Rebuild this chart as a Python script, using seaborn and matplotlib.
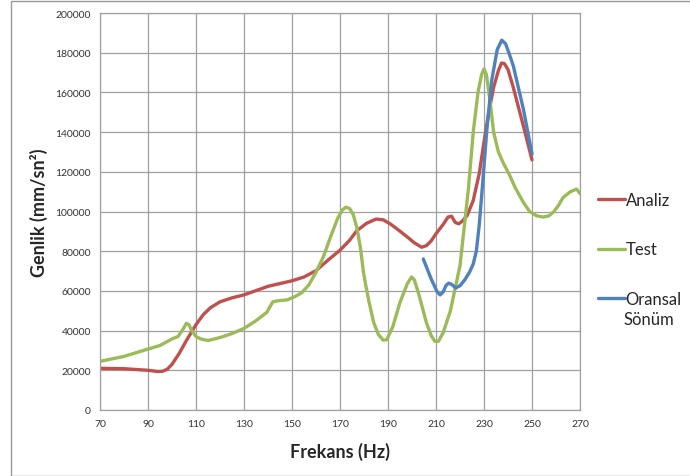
import pandas as pd
import numpy as np
import matplotlib
matplotlib.use("Agg")
import matplotlib.pyplot as plt
from matplotlib.patches import Rectangle
import seaborn as sns

# values
freq_analiz = [70, 80, 90, 94, 96, 98, 100, 103, 106, 110, 113, 116, 120, 125, 130, 140, 150, 155,
               160, 165, 170, 174, 177, 181, 185, 188, 191, 194, 198, 201, 204, 206, 208, 210, 213,
               215, 216.5, 218, 219.5, 221, 223, 225.5, 228, 230, 232, 234, 236, 237.3, 238.5, 240,
               242, 246, 250]
amp_analiz = [21000, 20800, 20000, 19400, 19500, 20500, 23000, 28500, 35000, 43000, 48000, 51500,
              54500, 56500, 58000, 62300, 65100, 67000, 70200, 75500, 80500, 85500, 90300, 94000,
              96200, 95800, 93700, 91000, 87200, 84200, 82000, 82800, 85200, 88800, 93500, 97200,
              97600, 94500, 93800, 95200, 98000, 105500, 119000, 135000, 150000, 162500, 171000,
              174800, 174500, 171500, 163400, 145000, 126000]

freq_test = [70, 80, 90, 95, 100, 102.5, 104.5, 106, 107, 108.5, 110, 112, 115, 120, 125, 130, 135,
             139.5, 142, 144, 148, 151, 154, 157, 160, 163, 166, 169, 171, 172.5, 174, 175.5, 177,
             178.5, 179.7, 180.5, 182, 184, 186, 188, 189.5, 192, 195, 198, 199.8, 201, 203, 206,
             208, 209.5, 211, 213, 216, 220, 223.5, 225.5, 227.5, 229, 230, 231, 232.5, 234, 236,
             238, 240.8, 243, 246.4, 249, 252, 254.7, 257, 259, 261, 263, 266, 268.6, 270]
amp_test = [24500, 27000, 30700, 32500, 35800, 37000, 40500, 43700, 43000, 39500, 37000, 35800,
            35000, 36500, 38500, 41100, 45000, 49200, 54500, 55000, 55500, 57000, 59000, 63000,
            69400, 77000, 87000, 96500, 100800, 102200, 101500, 98500, 92000, 82000, 70000, 64300,
            55000, 44200, 38000, 35200, 35400, 42000, 54200, 63500, 67000, 65500, 57600, 44000,
            37500, 34600, 34600, 39000, 50000, 72700, 111300, 139900, 160000, 169000, 171800,
            169000, 156000, 140000, 130000, 124500, 118000, 112000, 104600, 100000, 97800, 97200,
            97800, 99800, 103000, 107100, 110000, 111300, 109000]

freq_oransal = [204.7, 208, 210.5, 211.7, 213, 214.2, 215.3, 216.5, 218.2, 220, 222, 224, 225.5,
                226.8, 228, 229.5, 231.1, 233.2, 235.5, 237.4, 239, 240.5, 242.2, 246.4, 250]
amp_oransal = [76100, 66000, 59500, 58000, 59500, 62800, 63900, 63300, 61500, 62600, 65600, 69500,
               73500, 80000, 93000, 115000, 140000, 166000, 181500, 186300, 184500, 179500, 173400,
               151600, 129000]

series_names = ["Analiz", "Test", "Oransal Sönüm"]
series_colors = ["#C0504D", "#9BBB59", "#4F81BD"]

df = pd.concat([
    pd.DataFrame({"f": freq_analiz, "a": amp_analiz, "seri": series_names[0]}),
    pd.DataFrame({"f": freq_test, "a": amp_test, "seri": series_names[1]}),
    pd.DataFrame({"f": freq_oransal, "a": amp_oransal, "seri": series_names[2]}),
], ignore_index=True)

sns.set_style("white")
plt.rcParams["font.family"] = ["Lato", "DejaVu Sans"]

fig = plt.figure(figsize=(6.9, 4.77), dpi=100)
ax = fig.add_axes([100 / 690, 1 - 411 / 477, 480 / 690, 397 / 477])

sns.lineplot(data=df, x="f", y="a", hue="seri", palette=dict(zip(series_names, series_colors)),
             sort=False, estimator=None, linewidth=2.4, ax=ax)
for ln in ax.lines:
    ln.set_solid_joinstyle("round")
    ln.set_solid_capstyle("round")

ax.set_xlim(70, 270)
ax.set_ylim(0, 200000)
ax.set_xticks(np.arange(70, 271, 20))
ax.set_yticks(np.arange(0, 200001, 20000))
ax.grid(True, color="#a0a0a0", linewidth=0.9)
ax.set_axisbelow(True)
for s in ax.spines.values():
    s.set_color("#a0a0a0")
    s.set_linewidth(0.9)
ax.tick_params(axis="both", labelsize=7.5, colors="#a0a0a0", labelcolor="#333333",
               direction="out", length=3.5, width=0.9, pad=3)

ax.set_xlabel("Frekans (Hz)", fontsize=13, fontweight="bold")
ax.set_ylabel("Genlik (mm/sn²)", fontsize=13, fontweight="bold")
ax.xaxis.set_label_coords(0.5, -0.08)
ax.yaxis.set_label_coords(-0.108, 0.5)

# Excel style legend: second word of the last entry wraps under the first
handles, labels = ax.get_legend_handles_labels()
labels = [lb.split(" ")[0] for lb in labels]
ax.legend(handles, labels, loc="upper left", bbox_to_anchor=(598 / 690, 1 - 193 / 477),
          bbox_transform=fig.transFigure, frameon=False, fontsize=12, handlelength=1.6,
          handletextpad=0.05, labelspacing=2.0, borderpad=0, borderaxespad=0)
fig.text(624 / 690, 1 - 320 / 477, series_names[2].split(" ")[1], fontsize=12,
         ha="left", va="center")

fig.patches.append(Rectangle((11 / 690, 0.5 / 477), 1.0, 1 - 2.2 / 477, transform=fig.transFigure,
                             fill=False, edgecolor="#999999", linewidth=1.0))

fig.savefig("out.png", dpi=100)
